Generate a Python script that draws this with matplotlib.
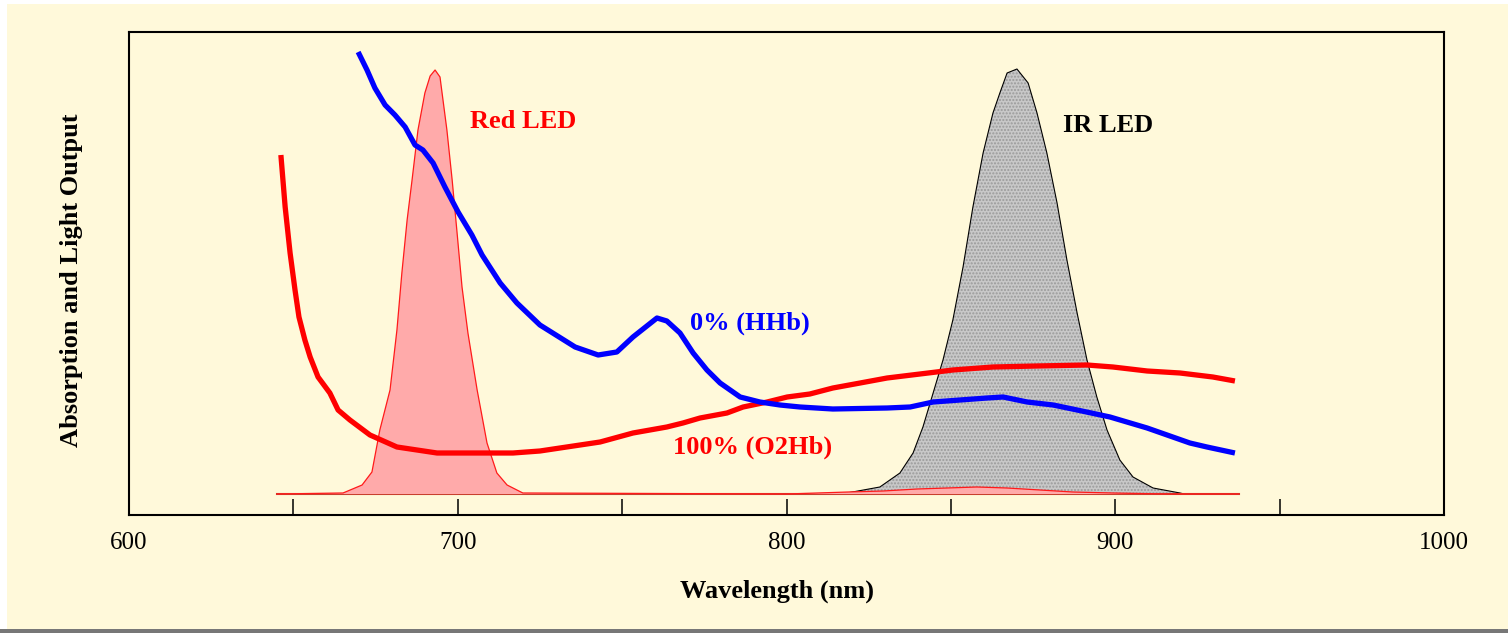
import matplotlib
matplotlib.use("Agg")
import matplotlib.pyplot as plt
from matplotlib.patches import Rectangle

plt.rcParams['font.family'] = ['Liberation Serif', 'DejaVu Serif']
plt.rcParams['hatch.linewidth'] = 1.0

# Red LED emission (nm, relative output), with its small secondary hump
red_led_nm = [645.0, 665.1, 670.9, 673.9, 676.3, 679.4, 681.5, 683.0, 684.6, 686.1,
              687.9, 690.0, 691.6, 693.1, 694.6, 696.7, 698.3, 699.8, 701.3, 703.1,
              705.9, 708.9, 711.9, 715.0, 719.8, 800.0, 818.7, 829.4, 839.7, 848.8,
              857.9, 867.1, 877.1, 887.1, 899.3, 915.7, 937.6]
red_led_out = [0, 1, 9, 22, 64, 104, 164, 221, 274, 314,
               364, 401, 418, 424, 417, 364, 314, 261, 207, 161,
               104, 51, 21, 9, 1, 0, 2, 3, 5, 6,
               7, 6, 4, 2, 1, 0, 0]

# IR LED emission
ir_led_nm = [816.3, 818.4, 828.4, 834.5, 838.5, 841.5, 844.6, 847.6, 850.6, 853.7,
             856.7, 859.8, 862.8, 864.9, 867.1, 870.1, 873.5, 876.2, 879.2, 882.3,
             885.3, 888.4, 891.4, 894.4, 897.5, 901.4, 905.4, 911.5, 919.7, 921.0]
ir_led_out = [0, 1, 7, 21, 41, 67, 101, 134, 174, 227,
              287, 341, 381, 401, 421, 425, 411, 381, 341, 291,
              234, 181, 134, 97, 64, 34, 17, 6, 1, 0]

# deoxygenated haemoglobin absorption (0% saturation)
hhb_nm = [669.7, 672.4, 674.8, 677.9, 680.9, 684.0, 687.0, 689.4, 692.5, 696.1,
          700.1, 704.3, 707.4, 712.9, 718.0, 725.0, 735.7, 742.7, 748.4, 753.3,
          760.6, 763.6, 767.6, 771.6, 775.8, 779.8, 785.9, 791.9, 798.0, 804.1,
          814.1, 830.6, 837.6, 844.6, 852.8, 861.0, 865.9, 873.2, 881.1, 888.4,
          898.4, 909.7, 922.7, 927.9, 936.4]
hhb_abs = [442, 424, 406, 389, 379, 367, 349, 344, 331, 307,
           282, 259, 239, 211, 191, 169, 147, 139, 142, 157,
           176, 173, 161, 141, 124, 111, 97, 92, 89, 87,
           85, 86, 87, 92, 94, 96, 97, 92, 89, 84,
           77, 66, 51, 47, 41]

# oxygenated haemoglobin absorption (100% saturation)
o2hb_nm = [646.2, 647.5, 649.0, 650.5, 651.7, 653.5, 655.1, 657.5, 661.1, 663.6,
           667.2, 673.3, 681.5, 693.7, 708.9, 716.8, 725.0, 743.3, 753.3, 763.6,
           768.5, 773.7, 781.9, 786.8, 794.1, 800.2, 807.1, 814.1, 822.4, 830.6,
           840.6, 850.6, 862.8, 876.2, 891.4, 899.3, 909.7, 919.7, 929.7, 936.4]
o2hb_abs = [339, 287, 241, 204, 177, 154, 137, 117, 101, 84,
            74, 59, 47, 41, 41, 41, 43, 52, 61, 67,
            71, 76, 81, 87, 92, 97, 100, 106, 111, 116,
            120, 124, 127, 128, 129, 127, 123, 121, 117, 113]

bg = '#FFF9DA'

fig = plt.figure(figsize=(15.08, 6.33), dpi=100)
fig.patch.set_facecolor('white')
fig.add_artist(Rectangle((7 / 1508, 4 / 633), 1 - 7 / 1508, 625 / 633,
                         transform=fig.transFigure, facecolor=bg, edgecolor='none', zorder=0))
fig.add_artist(Rectangle((0, 0), 1, 4 / 633, transform=fig.transFigure,
                         facecolor='#777777', edgecolor='none', zorder=0))

ax = fig.add_axes([129 / 1508, 118 / 633, 1315 / 1508, 483 / 633])
ax.set_facecolor('none')

# LED spectra
ax.fill_between(ir_led_nm, ir_led_out, 0, facecolor='#c8c8c8', edgecolor='#9a9a9a',
                hatch='.....', linewidth=0, zorder=2)
ax.plot(ir_led_nm, ir_led_out, color='black', lw=0.8, zorder=3)

ax.plot([red_led_nm[0], red_led_nm[-1]], [0, 0], color='#c8402f', lw=1.5, zorder=3)
ax.fill_between(red_led_nm, red_led_out, 0, facecolor='#FFAAAA', linewidth=0, zorder=4)
ax.plot(red_led_nm, red_led_out, color='#ff1a1a', lw=0.9, zorder=5)

# absorption curves
ax.plot(o2hb_nm, o2hb_abs, color='#ff0000', lw=3.8, zorder=6,
        solid_capstyle='butt', solid_joinstyle='round')
ax.plot(hhb_nm, hhb_abs, color='#0000ff', lw=3.8, zorder=7,
        solid_capstyle='butt', solid_joinstyle='round')

lbl = dict(fontsize=19, fontweight='bold', va='center', ha='left')
ax.text(703.7, 372, 'Red LED', color='#ff0000', **lbl)
ax.text(884.1, 368, 'IR LED', color='black', **lbl)
ax.text(770.6, 171, '0% (HHb)', color='#0000ff', **lbl)
ax.text(765.5, 47, '100% (O2Hb)', color='#ff0000', **lbl)

ax.set_xlim(600, 1000)
ax.set_ylim(-21, 462)
ax.set_xticks([600, 700, 800, 900, 1000])
ax.set_xticks([650, 750, 850, 950], minor=True)
ax.set_yticks([])
ax.tick_params(axis='x', which='both', direction='in', length=11.5, width=1.1,
               color='black', top=False)
ax.tick_params(axis='x', which='major', labelsize=18, pad=12)
for s in ax.spines.values():
    s.set_linewidth(1.5)
    s.set_color('black')

fig.text(72 / 1508, 1 - 280 / 633, 'Absorption and Light Output', rotation=90,
         fontsize=19, fontweight='bold', ha='center', va='center')
fig.text(777 / 1508, 1 - 591 / 633, 'Wavelength (nm)', fontsize=19,
         fontweight='bold', ha='center', va='center')

fig.savefig('out.png', dpi=100, facecolor=fig.get_facecolor())
